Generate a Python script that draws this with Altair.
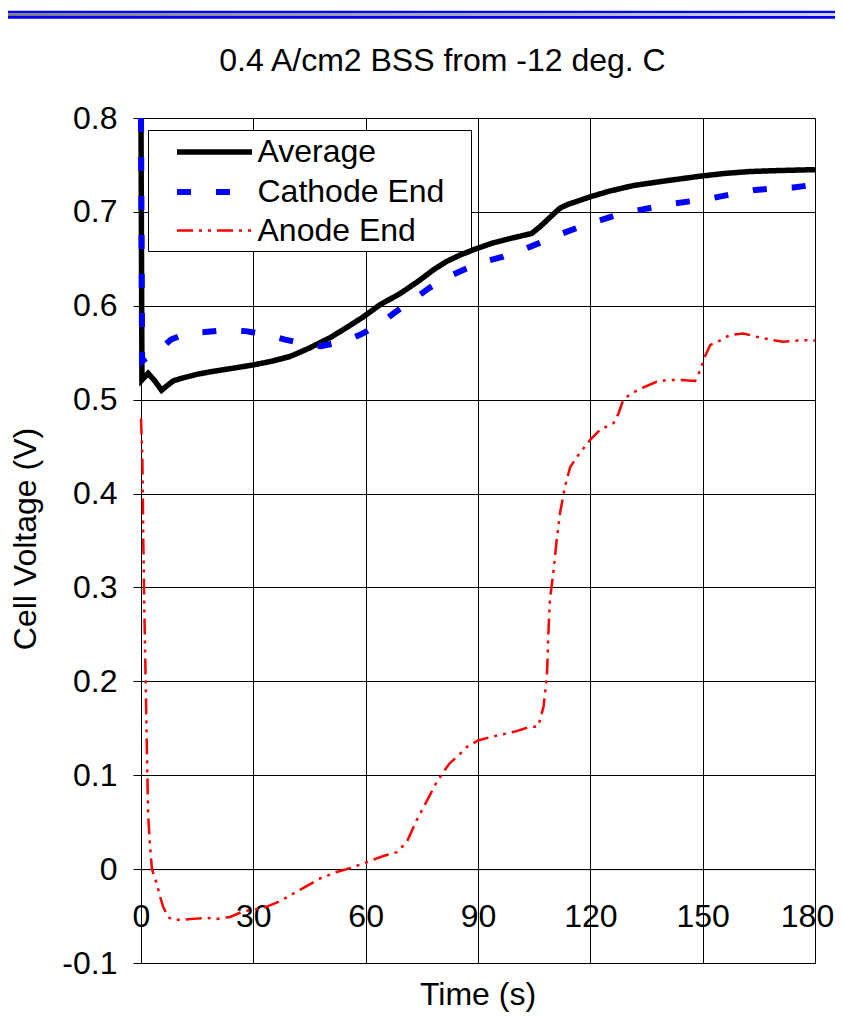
import altair as alt
import pandas as pd

# ---------------- data ----------------
series_names = ["Average", "Cathode End", "Anode End"]
series_colors = ["#000000", "#0000ff", "#ff0000"]
series_dashes = [[1, 0], [14, 25], [16, 6, 3, 6, 3, 6]]
series_widths = [5.5, 6, 2.5]

avg_t = [0, 0.25, 1.9, 3.5, 5.5, 7, 8.6, 11, 14.9, 19, 23.8, 30, 35, 39.8, 45, 50.5, 55, 59.3, 63.8, 69.2,
         74, 78, 81.5, 85.2, 89, 94, 99, 104.3, 106.5, 108.4, 110.5, 111.9, 114, 117, 119.9, 125, 131.4, 140,
         149.3, 156, 162.7, 170, 180]
avg_v = [0.80, 0.521, 0.528, 0.521, 0.510, 0.515, 0.520, 0.523, 0.527, 0.530, 0.533, 0.537, 0.541, 0.546,
         0.555, 0.566, 0.577, 0.588, 0.601, 0.613, 0.626, 0.638, 0.647, 0.654, 0.660, 0.667, 0.672, 0.677,
         0.684, 0.691, 0.699, 0.704, 0.708, 0.712, 0.716, 0.722, 0.728, 0.733, 0.738, 0.741, 0.743, 0.744, 0.745]

cat_t = [0, 0.3, 1.95, 5.5, 8, 12.4, 17, 22.9, 28, 33.6, 38.5, 43.9, 48, 54.2, 58.5, 63.2, 67.5, 72.5, 77,
         81.5, 86.5, 91.5, 96.5, 101.5, 106.5, 111.8, 116.5, 121.7, 126.5, 131.9, 137, 142.6, 148, 153, 158,
         163.5, 169, 174.2, 180]
cat_v = [0.80, 0.541, 0.546, 0.555, 0.564, 0.571, 0.572, 0.574, 0.573, 0.569, 0.564, 0.559, 0.557, 0.562,
         0.569, 0.579, 0.592, 0.606, 0.619, 0.630, 0.639, 0.647, 0.652, 0.659, 0.667, 0.676, 0.683, 0.690,
         0.696, 0.701, 0.705, 0.709, 0.712, 0.715, 0.719, 0.723, 0.725, 0.726, 0.729]

ano_t = [0, 0.35, 0.45, 0.6, 0.88, 1.26, 1.6, 1.9, 2.3, 2.9, 3.5, 4.2, 5.0, 5.9, 7.2, 8.5, 10.4, 13.9, 17.5,
         20.2, 23.8, 27.3, 30.4, 33.6, 36.7, 39.8, 43.4, 47.8, 52.3, 55.8, 59.4, 64.7, 68.3, 71.0, 73.6, 76.0,
         79.0, 81.0, 82.5, 85.0, 87.0, 90.0, 93.7, 97.7, 100.3, 103.5, 106.1, 107.5, 108.4, 108.8, 109.2,
         110.1, 111.0, 111.9, 113.2, 114.6, 116.4, 119.9, 122.6, 126.2, 127.5, 128.8, 131.1, 134.2, 137.7,
         140.4, 144.0, 148.0, 149.3, 150.6, 152.0, 154.6, 157.3, 160.9, 164.4, 168.0, 171.5, 174.2, 177.8, 180.0]
ano_v = [0.48, 0.44, 0.41, 0.354, 0.278, 0.197, 0.12, 0.06, 0.03, 0.001, -0.008, -0.015, -0.028, -0.040,
         -0.051, -0.054, -0.054, -0.053, -0.052, -0.053, -0.051, -0.045, -0.043, -0.040, -0.035, -0.028,
         -0.020, -0.010, -0.003, 0.001, 0.006, 0.014, 0.018, 0.029, 0.052, 0.070, 0.093, 0.105, 0.113, 0.122,
         0.130, 0.137, 0.141, 0.1445, 0.147, 0.151, 0.152, 0.173, 0.205, 0.251, 0.287, 0.315, 0.350, 0.379,
         0.407, 0.428, 0.439, 0.457, 0.468, 0.475, 0.485, 0.500, 0.507, 0.513, 0.519, 0.521, 0.521, 0.520,
         0.531, 0.546, 0.558, 0.563, 0.569, 0.5705, 0.567, 0.564, 0.5616, 0.5627, 0.5634, 0.563]

x_ticks = [0, 30, 60, 90, 120, 150, 180]
y_ticks = [-0.1, 0.0, 0.1, 0.2, 0.3, 0.4, 0.5, 0.6, 0.7, 0.8]

title_text = "0.4 A/cm2 BSS from -12 deg. C"
x_title = "Time (s)"
y_title = "Cell Voltage (V)"

# ---------------- layout ----------------
FONT = "Liberation Sans"
W, H = 674, 845
PAD = {"left": 133, "top": 110, "right": 20, "bottom": 51}
x_dom = [x_ticks[0], x_ticks[-1]]
y_dom = [y_ticks[0], y_ticks[-1]]
zero_off = H * (0 - y_dom[0]) / (y_dom[1] - y_dom[0])

rows = []
for name, ts, vs in zip(series_names, [avg_t, cat_t, ano_t], [avg_v, cat_v, ano_v]):
    for i, (t, v) in enumerate(zip(ts, vs)):
        rows.append({"series": name, "t": t, "v": v, "i": i})
df = pd.DataFrame(rows)

legend = alt.Legend(
    title=None, orient="none", legendX=7, legendY=12, direction="vertical",
    symbolType="M-2.5,0L2.5,0", symbolSize=900, symbolOffset=44.5,
    labelOffset=25, labelFontSize=32, labelFont=FONT, labelColor="black", labelLimit=600,
    padding=4, rowPadding=6,
)

last_x = x_ticks[-1]
lines = alt.Chart(df).mark_line(strokeCap="butt").encode(
    x=alt.X("t:Q", scale=alt.Scale(domain=x_dom, nice=False, zero=False),
            axis=alt.Axis(values=x_ticks, format="d", offset=-zero_off,
                          tickSize=8, tickColor="black", tickWidth=1,
                          domainColor="black", domainWidth=1,
                          labelFontSize=32, labelFont=FONT, labelColor="black", labelPadding=24,
                          labelOffset={"condition": {"test": f"datum.value === {last_x}", "value": -8},
                                       "value": 0},
                          labelFlush=False, labelOverlap=False,
                          grid=True, gridColor="black", gridWidth=1, gridOpacity=1,
                          title=x_title, titleFontSize=32, titleFont=FONT, titleFontWeight="normal",
                          titleColor="black", titleX=336.5, titleY=886 - (H - zero_off),
                          titleAlign="center", titleBaseline="alphabetic", titleAngle=0)),
    y=alt.Y("v:Q", scale=alt.Scale(domain=y_dom, nice=False, zero=False),
            axis=alt.Axis(values=y_ticks,
                          labelExpr="(datum.value < 0 ? '-' : '') + format(abs(datum.value), '.1~f')",
                          tickSize=8, tickColor="black", tickWidth=1,
                          domainColor="black", domainWidth=1,
                          labelFontSize=32, labelFont=FONT, labelColor="black", labelPadding=16,
                          labelFlush=False, labelOverlap=False,
                          grid=True, gridColor="black", gridWidth=1, gridOpacity=1,
                          title=y_title, titleFontSize=32, titleFont=FONT, titleFontWeight="normal",
                          titleColor="black", titleX=-106, titleY=420.5, titleAngle=270,
                          titleAlign="center", titleBaseline="alphabetic")),
    color=alt.Color("series:N", scale=alt.Scale(domain=series_names, range=series_colors), legend=legend),
    strokeDash=alt.StrokeDash("series:N", scale=alt.Scale(domain=series_names, range=series_dashes),
                              legend=legend),
    strokeWidth=alt.StrokeWidth("series:N",
                                scale=alt.Scale(type="ordinal", domain=series_names, range=series_widths),
                                legend=legend),
    order=alt.Order("i:Q"),
)

one = pd.DataFrame({"k": [0]})
x_left, x_right = -PAD["left"], W + PAD["right"]
band1 = alt.Chart(one).mark_rect(color="#0000ff").encode(
    x=alt.value(x_left), x2=alt.value(x_right), y=alt.value(-107.3), y2=alt.value(-104.7))
band2 = alt.Chart(one).mark_rect(
    color=alt.LinearGradient(gradient="linear",
                             stops=[alt.GradientStop(color="#7a7a7a", offset=0),
                                    alt.GradientStop(color="#d4d4d4", offset=1)],
                             x1=0, x2=1, y1=0, y2=0)).encode(
    x=alt.value(x_left), x2=alt.value(x_right), y=alt.value(-104.7), y2=alt.value(-102))
band3 = alt.Chart(one).mark_rect(color="#0000ff").encode(
    x=alt.value(x_left), x2=alt.value(x_right), y=alt.value(-102), y2=alt.value(-99.3))

# legend frame (white box with black border behind the legend entries)
legend_box = alt.Chart(one).mark_rect(fill="white", stroke="black", strokeWidth=1).encode(
    x=alt.value(7.5), x2=alt.value(330.5), y=alt.value(12.5), y2=alt.value(133.5))

title = alt.Chart(one).mark_text(text=title_text, font=FONT, fontSize=32, color="black",
                                 align="center", baseline="alphabetic").encode(
    x=alt.value(301.5), y=alt.value(-47.5))

chart = alt.layer(band1, band2, band3, legend_box, lines, title).properties(
    width=W, height=H, padding=PAD, autosize=alt.AutoSizeParams(type="none"),
    background="white",
).configure_view(stroke="black", strokeWidth=1).configure(font=FONT)

chart.save("out.html", embed_options={"renderer": "svg", "actions": False})
